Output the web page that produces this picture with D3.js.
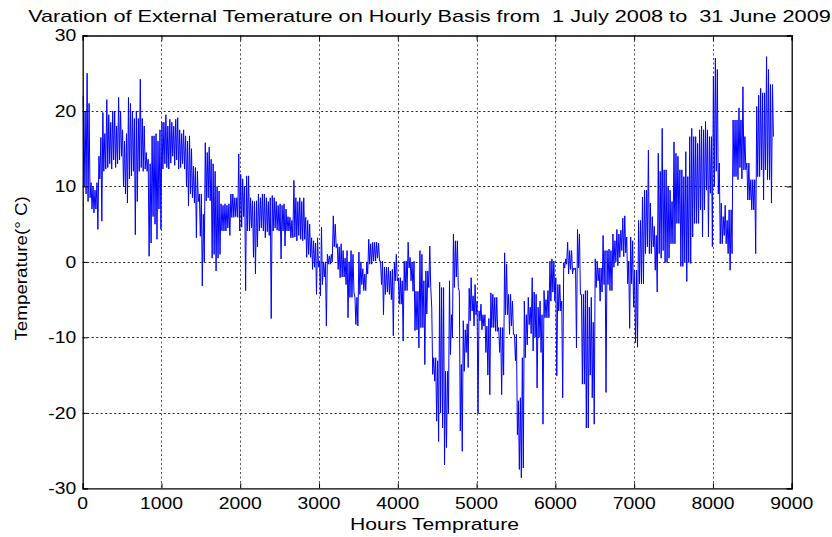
<!DOCTYPE html>
<html>
<head>
<meta charset="utf-8">
<script src="https://cdn.jsdelivr.net/npm/d3@7"></script>
<style>
  html, body { margin: 0; padding: 0; background: #fff; }
  svg { display: block; }
  text { font-family: "Liberation Sans", Arial, Helvetica, sans-serif; fill: #000; }
</style>
</head>
<body>
<svg id="chart" width="832" height="537"></svg>
<script>
// External temperature (°C): highest and lowest hourly reading in each 25-hour window
const windowHours = 25;
const windowHigh = [
  22, 20, 25, 21,       10.5, 10, 9.5, 10.5,   14, 16.5, 19.8, 17,    21.5, 19.5, 18.5, 20,
  20, 18, 21.8, 20,     17.5, 16, 17, 21.8,    21, 20, 19, 20,        19, 24.2, 19, 18,
  14.5, 13.6, 13, 16.7, 16.7, 17, 16, 17.5,    18.5, 18.5, 19.5, 18,  18.9, 18.5, 18, 18.9,
  19.1, 17.5, 17, 17.5, 16.7, 16, 16.7, 15,    12.7, 12.5, 12, 9,     9, 6.3, 15.8, 14.5,
  15.2, 13.6, 13, 12,   10, 9.4, 7.7, 7.5,     7.7, 7.5, 7.7, 9,      9, 8.5, 8.5, 14.3,
  11.6, 11, 10, 11.4,   11.4, 8.5, 8.1, 8,     8.1, 9, 8.5, 9,        9, 8.5, 8, 8.5,
  8.8, 8.5, 8, 7.5,     7.7, 7.5, 7.7, 7,      6, 5.9, 5.5, 10.8,     8.5, 8, 8.5, 8,
  8.5, 5.9, 5.5, 5,     3.2, 2.8, 2.5, 3.2,    0.1, 4.6, 0, 0,        1, 0.8, 1, 6.1,
  5, 2.4, 2, 2.4,       1.5, 0.5, 1.5, 0,      1.5, 1, -4.7, -4.7,    1.3, 0, -0.9, -1.6,
  0, 3.0, 2.4, 2.6,     2.6, 2.6, 2.5, 0.1,    0.1, -0.7, -0.7, -0.7, -1.2, -1, -0.1, 1.0,
  -2.1, -2.1, -2.5, 0.1, 0.1, 2.6, 0.6, -0.1,  0.1, -3.9, -3.9, 1.5,  1, -2.5, -1.2, -1.2,
  2.1, -6.1, -12.7, -12.7, -13.1, -2.7, -3.4, -3.4, -14.5, -14.5, -2.5, -7, 3.7, 2.8, 2.8, -3.9,
  -13.6, -7.8, -9, -8.2, -3.5, -2.1, -4.5, -3, -5.2, -6.5, -5.6, -7,  -7, -8.5, -7.5, -4.1,
  -4.3, -4.7, -4.7, -8.7, -8.7, -8.7, 1.2, -0.3, -4.3, -4.3, -5.2, -9.6, -9.6, -18.4, -18, -12.7,
  -5.2, -7, -4.7, -6,   -2.1, -4, -4.3, -6,    -5.2, -7, -3.8, -5,    -3.8, 0.1, 0.4, 0.1,
  -2.1, -3, -3, -5.2,   -0.1, 0.4, 2.6, 1.5,   1.5, -0.8, -0.8, 4.3,  3.7, -4.3, -4.3, -3.8,
  -3.8, -6, -4.7, -8,   0.4, 0.1, -0.8, -0.8,  3.5, 1.5, 1.5, 1.7,    1.5, 3.7, 2.8, 4.3,
  3.7, 4.2, 5.8, 6.1,   3.3, 0.1, 3.3, 2.8,    -1.1, -1.1, 5.5, 5.5,  8.6, 9.5, 9.5, 14.8,
  7.8, 6, 4.7, 3.5,     14.4, 12, 17.7, 12.2,  12.2, 10, 9.5, 8,      15.9, 14.4, 14, 12.2,
  12.2, 11.3, 14.6, 11.3, 16.6, 17.7, 16.6, 16.6, 15.7, 17.5, 18, 17.5, 18.6, 17.5, 16.6, 16.6,
  24.6, 27, 25.5, 13.1, 7.8, 6, 7.5, 5.5,      6.9, 6.9, 18.8, 18.8,  18.8, 20.4, 18.8, 23.2,
  16.6, 13.1, 13.1, 10.9, 10.9, 10.9, 20.6, 22.1, 23, 22.4, 22.4, 27.2, 25.5, 23.5, 23.5
];
const windowLow = [
  10, 9, 8, 8.5,        7, 6.5, 7, 4.3,        11, 5.4, 12, 12.3,     12.5, 13, 12.3, 13.5,
  12.5, 13, 13.5, 14,   10, 9, 7.8, 11,        11.4, 12, 3.6, 8,      12, 12.5, 12, 12.3,
  12, 0.75, 2.5, 6,     5, 3, 7, 4.3,          12.3, 13, 12.5, 12.3,  13.1, 14, 12.8, 13.5,
  12.3, 12.5, 13, 12.3, 10, 7.4, 9, 8.5,       7.8, 3.2, 8, 3.4,      -3.2, 0, 8.1, 8.5,
  8.1, 0.5, 1, -1.2,    0.5, 1, 4.1, 4.1,      4.1, 4.5, 3.5, 5.9,    5.9, 6, 5.9, 4.1,
  4.6, 6, -3.8, 4.1,    4.1, 4.5, 0.6, -1.6,   2, 4.1, 4.5, 4.1,      3.2, 4, 3.5, -7.5,
  4.1, 4.5, 4.2, 4.1,   0.4, 4.1, 2.1, 4.1,    4.1, 3.2, 3.2, 3.3,    2.8, 3.5, 3, 2.8,
  3, 0.6, 1, 0.6,       -1, -0.7, -4.3, -0.7,  -4.5, -3, -2, -8.5,    -0.3, -0.3, 0, 2,
  1.9, -1, -2.1, -2,    -2, -3, -7.4, -4.7,    -4.7, -4, -8.3, -8.5,  -4.3, -3, -3.8, -3.8,
  -1.6, -0.3, -0.3, 0.1, 0.1, 0.5, 0.1, -3,    -7, -4.3, -4, -4.3,    -5, -9.8, -2.5, -2.5,
  -5.6, -5.6, -10.5, -3.8, -3.8, -0.8, -2.5, -3.9, -9.1, -9, -11.4, -8.7, -8.7, -13.6, -6.9, -3.4,
  -3.4, -14.9, -15.8, -21.1, -23.8, -20, -22, -26.9, -24.6, -20, -12.3, -10, -3.4, -2, -3.4, -22.4,
  -25.1, -14.5, -12, -14, -7.8, -6.5, -8.5, -7, -20.1, -7.8, -9, -8.5, -12, -15, -17.6, -8.7,
  -8.7, -9.2, -9.2, -12, -17.6, -15, -7, -7,   -9.6, -8.5, -9.6, -13.1, -22.9, -27.5, -28.6, -27.3,
  -12.7, -11, -8.3, -9.5, -11.8, -10, -16.7, -10, -12, -21.5, -7.4, -7.4, -7.4, -5.2, -4, -5.2,
  -15.1, -6.5, -6.5, -18, -0.8, -0.3, -1.6, -1, -1.6, -1, -11.4, -0.8, -4.3, -16.2, -16.2, -22,
  -22, -15, -18, -21.5, -3.4, -2.5, -5.2, -4, -3, -17.3, -3, -3.8,    -3.8, -0.7, 0, -0.5,
  0.6, 1.5, 0.7, 1.2,   -2.9, -8.8, -2.9, -6,  -10.7, -11.3, -2.9, -2.9, -2.9, 1.1, 2, 1.1,
  1.1, 2, -1.1, -4,     1.1, 0.5, 1.5, -0.1,   -0.1, 0.5, 2.4, 2.4,   2.4, 5.1, 5.1, -0.6,
  -0.6, -0.1, -2.6, -0.1, -0.2, 3.3, 5.1, 5.1, 5.1, 6.9, 3.3, 6.9,    9.5, 3.3, 9.1, 2,
  10, 12, 9, 2.4,       2.4, 3.5, 2.4, 1.1,    -1.1, 1.1, 11.3, 11.3, 10.9, 12.5, 11, 12.2,
  12.2, 8.2, 8.2, 6.9,  6.9, 1.1, 11.3, 11.3,  12.2, 8.2, 12.2, 10.9, 10.9, 7.8, 16.6
];
const xTicks = [0, 1000, 2000, 3000, 4000, 5000, 6000, 7000, 8000, 9000];
const yTicks = [-30, -20, -10, 0, 10, 20, 30];
const titleText = "Varation of External Temerature on Hourly Basis from  1 July 2008 to  31 June 2009";
const xLabelText = "Hours Temprature";
const yLabelText = "Temperature(\u00B0 C)";

const W = 832, H = 537;
const svg = d3.select("#chart");
const x = d3.scaleLinear().domain([0, 9000]).range([82.7, 791.7]);
const y = d3.scaleLinear().domain([-30, 30]).range([488.3, 35.5]);
const fs = 16;

// trace through each window's high and then its low
const trace = [];
windowHigh.forEach((hi, i) => {
  trace.push({ h: i * windowHours + 6, t: hi });
  trace.push({ h: i * windowHours + 18, t: windowLow[i] });
});

// width of a string in the label font, used to set the letter stretch
function textWidth(str) {
  const t = svg.append("text").attr("font-size", fs).style("white-space", "pre").text(str);
  const w = t.node().getComputedTextLength();
  t.remove();
  return w;
}
const tickStretch = 43 / textWidth("1000");

// grid
const grid = svg.append("g").attr("stroke-width", 1).attr("fill", "none")
  .attr("stroke-dasharray", "2,2.5");
grid.selectAll("line.gx").data(xTicks.slice(1, -1)).join("line")
  .attr("x1", d => Math.round(x(d)) + 0.5).attr("x2", d => Math.round(x(d)) + 0.5)
  .attr("y1", y(30)).attr("y2", y(-30)).attr("stroke", "#555");
grid.selectAll("line.gy").data(yTicks.slice(1, -1)).join("line")
  .attr("y1", d => Math.round(y(d)) + 0.5).attr("y2", d => Math.round(y(d)) + 0.5)
  .attr("x1", x(0)).attr("x2", x(9000)).attr("stroke", "#222");

// temperature trace
const line = d3.line().x(d => x(d.h)).y(d => y(d.t));
svg.append("path").datum(trace)
  .attr("d", line)
  .attr("fill", "none")
  .attr("stroke", "#0000ff")
  .attr("stroke-width", 1);

// box with inward ticks on all four sides
const tick = 5;
const gB = svg.append("g").attr("transform", `translate(0,${y(-30)})`)
  .call(d3.axisBottom(x).tickValues(xTicks).tickSize(-tick).tickFormat(""));
const gT = svg.append("g").attr("transform", `translate(0,${y(30)})`)
  .call(d3.axisTop(x).tickValues(xTicks).tickSize(-tick).tickFormat(""));
const gL = svg.append("g").attr("transform", `translate(${x(0)},0)`)
  .call(d3.axisLeft(y).tickValues(yTicks).tickSize(-tick).tickFormat(""));
const gR = svg.append("g").attr("transform", `translate(${x(9000)},0)`)
  .call(d3.axisRight(y).tickValues(yTicks).tickSize(-tick).tickFormat(""));
[gB, gT, gL, gR].forEach(g => {
  g.select(".domain").attr("stroke", "#000").attr("stroke-width", 1.3);
  g.selectAll(".tick line").attr("stroke", "#000");
});

// tick labels
svg.append("g").selectAll("text").data(xTicks).join("text")
  .attr("transform", d => `translate(${x(d)},${y(-30) + 20.7}) scale(${tickStretch},1)`)
  .attr("text-anchor", "middle").attr("font-size", fs).text(d => d);
svg.append("g").selectAll("text").data(yTicks).join("text")
  .attr("transform", d => `translate(${x(0) - 6.5},${y(d) + 5.8}) scale(${tickStretch},1)`)
  .attr("text-anchor", "end").attr("font-size", fs).text(d => d);

// title and axis labels
svg.append("text")
  .attr("transform", `translate(429.5,22) scale(${803 / textWidth(titleText)},1)`)
  .attr("text-anchor", "middle").attr("font-size", fs).style("white-space", "pre")
  .text(titleText);
svg.append("text")
  .attr("transform", `translate(434.5,529.5) scale(${169 / textWidth(xLabelText)},1)`)
  .attr("text-anchor", "middle").attr("font-size", fs).text(xLabelText);
svg.append("text")
  .attr("transform", `translate(26.5,268.4) rotate(-90) scale(${144.5 / textWidth(yLabelText)},1)`)
  .attr("text-anchor", "middle").attr("font-size", fs).text(yLabelText);
</script>
</body>
</html>
